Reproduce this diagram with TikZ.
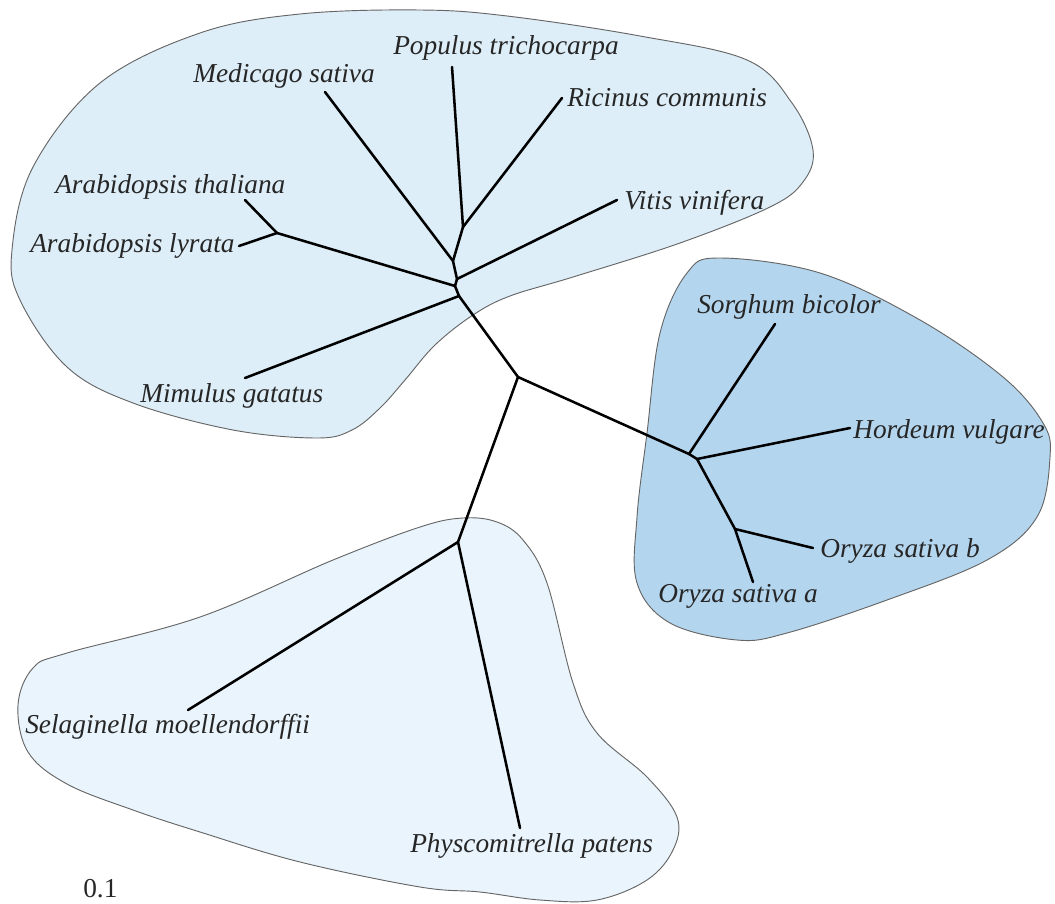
\documentclass[tikz,border=0pt]{standalone}
\usepackage{fontspec}
\setmainfont{Liberation Serif}[ItalicFont={Liberation Serif Italic},BoldFont={Liberation Serif Bold}]
\newfontfamily\taxfont{Liberation Serif Italic}
\newfontfamily\numfont{Liberation Serif}
\begin{document}
\begin{tikzpicture}[x=0.75pt,y=-0.75pt,
  branch/.style={line width=1.9pt,black,line cap=round,line join=round},
  blob/.style={draw=black!60,line width=0.7pt},
  taxon/.style={font=\taxfont\fontsize{20.5pt}{24pt}\selectfont,text=black!85,inner sep=0pt,anchor=base west},
  scalelbl/.style={font=\numfont\fontsize{20.5pt}{24pt}\selectfont,text=black!85,inner sep=0pt,anchor=base west}]
\useasboundingbox (0,0) rectangle (1055,903);
% clade outlines
\filldraw[blob,fill={rgb,255:red,221;green,238;blue,248}]
  plot[smooth cycle,tension=0.6] coordinates {(420,10) (507,16) (640,36) (747,60) (792,103) (813,150) (803,182) (770,207) (680,243) (573,277) (510,296) (473,315) (435,345) (405,380) (380,408) (352,430) (317,438) (233,430) (133,403) (67,367) (20,300) (12,250) (33,167) (100,83) (200,33) (300,14)};
\filldraw[blob,fill={rgb,255:red,180;green,213;blue,238}]
  plot[smooth cycle,tension=0.6] coordinates {(720,258) (820,273) (920,320) (1003,377) (1043,423) (1050,457) (1037,517) (987,560) (887,600) (787,633) (737,640) (670,623) (637,583) (637,517) (647,433) (660,333) (687,273)};
\filldraw[blob,fill={rgb,255:red,233;green,244;blue,252}]
  plot[smooth cycle,tension=0.6] coordinates {(463,518) (497,522) (523,540) (547,583) (573,683) (597,733) (647,777) (677,817) (673,850) (647,880) (597,900) (540,900) (480,892) (420,887) (300,862) (200,832) (133,810) (67,784) (28,752) (18,705) (33,668) (67,653) (200,617) (333,560) (420,527)};
% tree nodes
\coordinate (root) at (518,377);
\coordinate (nMim) at (459,296);
\coordinate (nAra) at (455,286);
\coordinate (nVit) at (457,279);
\coordinate (nMed) at (453,261);
\coordinate (nPop) at (463,227);
\coordinate (tPop) at (452,67);
\coordinate (tRic) at (562,98);
\coordinate (tMed) at (325,92);
\coordinate (tVit) at (617,200);
\coordinate (nArab) at (277,233);
\coordinate (tAth) at (245,200);
\coordinate (tAly) at (239,246);
\coordinate (tMim) at (245,378);
\coordinate (nPoa) at (689,454);
\coordinate (nPoa2) at (697,459);
\coordinate (tSor) at (775,324);
\coordinate (tHor) at (850,428);
\coordinate (nOry) at (735,529);
\coordinate (tOrb) at (813,548);
\coordinate (tOra) at (753,582);
\coordinate (nBry) at (458,542);
\coordinate (tSel) at (188,710);
\coordinate (tPhy) at (520,828);
% branches
\draw[branch] (root) -- (nMim);
\draw[branch] (nMim) -- (nAra);
\draw[branch] (nAra) -- (nVit);
\draw[branch] (nVit) -- (nMed);
\draw[branch] (nMed) -- (nPop);
\draw[branch] (nPop) -- (tPop);
\draw[branch] (nPop) -- (tRic);
\draw[branch] (nMed) -- (tMed);
\draw[branch] (nVit) -- (tVit);
\draw[branch] (nAra) -- (nArab);
\draw[branch] (nArab) -- (tAth);
\draw[branch] (nArab) -- (tAly);
\draw[branch] (nMim) -- (tMim);
\draw[branch] (root) -- (nPoa);
\draw[branch] (nPoa) -- (nPoa2);
\draw[branch] (nPoa) -- (tSor);
\draw[branch] (nPoa2) -- (tHor);
\draw[branch] (nPoa2) -- (nOry);
\draw[branch] (nOry) -- (tOrb);
\draw[branch] (nOry) -- (tOra);
\draw[branch] (root) -- (nBry);
\draw[branch] (nBry) -- (tSel);
\draw[branch] (nBry) -- (tPhy);
% labels
\node[taxon] (lMed) at (193,82) {Medicago sativa};
\node[taxon] (lPop) at (393,54) {Populus trichocarpa};
\node[taxon] (lRic) at (567,106) {Ricinus communis};
\node[taxon] (lVit) at (624,209) {Vitis vinifera};
\node[taxon] (lAth) at (55,193) {Arabidopsis thaliana};
\node[taxon] (lAly) at (30,252) {Arabidopsis lyrata};
\node[taxon] (lMim) at (140,402) {Mimulus gatatus};
\node[taxon] (lSor) at (697,313) {Sorghum bicolor};
\node[taxon] (lHor) at (853,438) {Hordeum vulgare};
\node[taxon] (lOrb) at (820,557) {Oryza sativa b};
\node[taxon] (lOra) at (658,602) {Oryza sativa a};
\node[taxon] (lSel) at (25,733) {Selaginella moellendorffii};
\node[taxon] (lPhy) at (410,852) {Physcomitrella patens};
\node[scalelbl] (lScale) at (83,897) {0.1};
\end{tikzpicture}
\end{document}
